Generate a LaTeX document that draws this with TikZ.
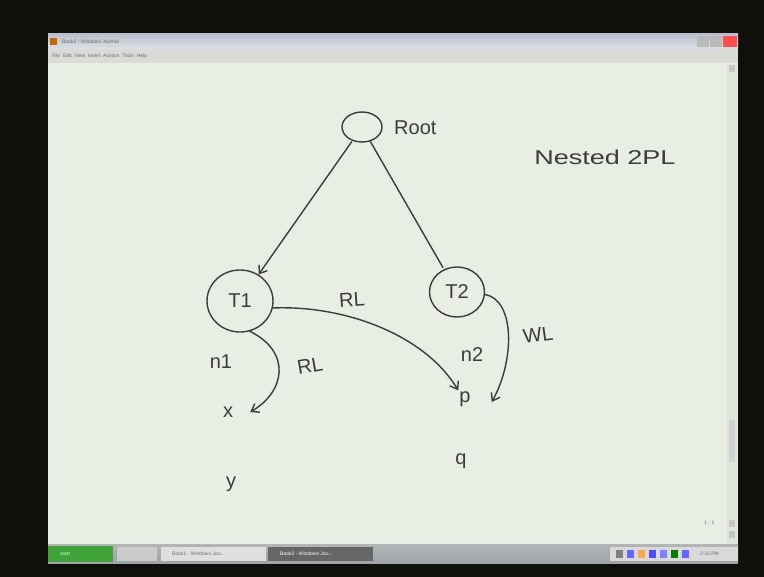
\documentclass[tikz,border=0pt]{standalone}
\usepackage{fontspec}
\setmainfont{Liberation Sans}
\usetikzlibrary{arrows.meta,shapes.geometric}

\definecolor{screen}{HTML}{0F0F0C}
\definecolor{paper}{HTML}{E8EEE4}
\definecolor{titletop}{HTML}{B9BFCC}
\definecolor{titlebot}{HTML}{DDE1E6}
\definecolor{menubar}{HTML}{D8DBD6}
\definecolor{ink}{HTML}{3C3C3A}
\definecolor{taskbar}{HTML}{9EA3A6}
\definecolor{startgreen}{HTML}{3FA33A}
\definecolor{uitext}{HTML}{6A6E74}

\tikzset{
  pen/.style={draw=ink, line width=1.4pt, line cap=round, line join=round},
  penarrow/.style={pen, -{Straight Barb[length=7pt,width=10pt,line width=1.4pt]}},
  hcirc/.style={ellipse, pen, inner sep=0pt, text=ink, font=\fontsize{20}{20}\selectfont},
  hand/.style={text=ink, inner sep=1pt, font=\fontsize{20}{20}\selectfont},
  uilbl/.style={text=uitext, inner sep=0pt, font=\fontsize{5}{5}\selectfont, anchor=west},
}

\begin{document}
\begin{tikzpicture}[x=1pt,y=-1pt]
\useasboundingbox (0,0) rectangle (764,577);
\fill[screen] (0,0) rectangle (764,577);

% window chrome
\shade[top color=titletop, bottom color=titlebot] (48,34) rectangle (738,49);
\fill[menubar] (48,49) rectangle (738,63);
\draw[gray!70, line width=0.6pt] (48,63) -- (738,63);
\fill[paper] (48,63.5) rectangle (738,545);
\fill[orange!80!black] (50,38) rectangle (57,45);
\node[uilbl, text=black!60] (title) at (62,41.5) {Book2 - Windows Journal};
\node[uilbl] (menu) at (52,56) {File \ Edit \ View \ Insert \ Actions \ Tools \ Help};
\fill[gray!55] (697,36) rectangle (709,47);
\fill[gray!55] (710,36) rectangle (722,47);
\fill[red!70!white] (723,36) rectangle (737,47);

% scroll bar
\fill[paper!92!gray] (727,64) rectangle (737,545);
\fill[gray!45] (729,65) rectangle (735,72);
\fill[gray!35] (729,420) rectangle (735,462);
\fill[gray!45] (729,520) rectangle (735,527);
\fill[gray!45] (729,531) rectangle (735,538);
\node[uilbl] (pagenum) at (704,523) {1 : 1};

% task bar
\shade[top color=taskbar!80, bottom color=taskbar] (48,545) rectangle (738,563);
\fill[startgreen] (48,546) rectangle (113,562);
\node[uilbl, text=white!85!green] (start) at (60,554) {start};
\fill[gray!40] (117,547) rectangle (157,561);
\fill[gray!25] (161,547) rectangle (266,561);
\node[uilbl] (task1) at (172,554) {Book1 - Windows Jou...};
\fill[black!60] (268,547) rectangle (373,561);
\node[uilbl, text=white!75] (task2) at (280,554) {Book2 - Windows Jou...};
\fill[gray!30] (610,547) rectangle (738,561);
\foreach \i/\c in {0/gray,1/blue!60,2/orange!70,3/blue!70,4/blue!50,5/green!50!black,6/blue!60}
  \fill[\c] (616+\i*11,550) rectangle (623+\i*11,558);
\node[uilbl] (clock) at (700,554) {2:33 PM};

% ---------- handwritten diagram ----------
\node[hcirc, minimum width=40pt, minimum height=30pt] (root) at (362,127) {};
\node[hand, anchor=west] (rootlbl) at (393,128) {Root};
\node[hand, xscale=1.35] (nested) at (605,157) {Nested 2PL};

\node[hcirc, minimum width=66pt, minimum height=62pt] (t1) at (240,301) {T1};
\node[hcirc, minimum width=55pt, minimum height=50pt] (t2) at (457,292) {T2};

\node[hand] (n1) at (221,362) {n1};
\node[hand] (n2) at (472,355) {n2};
\node[hand] (x) at (228,412) {x};
\node[hand] (p) at (465,399) {p};
\node[hand] (y) at (231,484) {y};
\node[hand] (q) at (461,461) {q};

% edges from the root
\draw[penarrow, shorten <=1pt] (root) -- (t1);
\draw[pen, shorten >=2pt] (root) -- (t2);

% read lock from T1 on p
\draw[penarrow] (t1.-12) .. controls (345,305) and (425,335) .. (p.north west);
\node[hand, rotate=4] (rl1) at (352,300) {RL};

% read lock from T1 on x
\draw[penarrow] (t1.-72) .. controls (292,352) and (285,392) .. ([xshift=16pt]x.east);
\node[hand, rotate=10] (rl2) at (310,366) {RL};

% write lock from T2 on p
\draw[penarrow] (t2.-5) .. controls (515,300) and (515,360) .. ([xshift=20pt,yshift=-3pt]p.east);
\node[hand, rotate=8] (wl) at (538,335) {WL};
\end{tikzpicture}
\end{document}
